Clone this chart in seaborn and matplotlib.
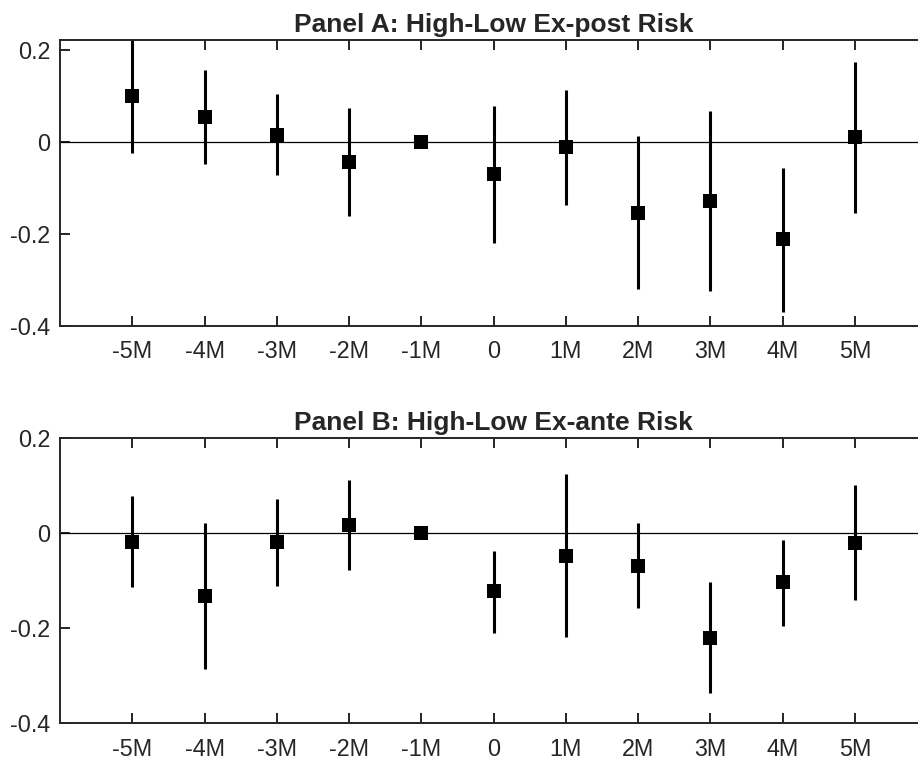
import numpy as np
import pandas as pd
import matplotlib
matplotlib.use("Agg")
import matplotlib.pyplot as plt
import seaborn as sns

# Event-time labels and positions.
periods = ["-5M", "-4M", "-3M", "-2M", "-1M", "0", "1M", "2M", "3M", "4M", "5M"]
positions = [-5, -4, -3, -2, -1, 0, 1, 2, 3, 4, 5]

# Panel A: High-Low Ex-post Risk (estimate, lower, upper).
expostEst = [0.099, 0.055, 0.015, -0.044, 0.0, -0.070, -0.012, -0.154, -0.128, -0.212, 0.010]
expostLow = [-0.023, -0.048, -0.072, -0.161, 0.0, -0.219, -0.137, -0.321, -0.324, -0.370, -0.155]
expostHigh = [0.230, 0.157, 0.104, 0.073, 0.0, 0.078, 0.113, 0.013, 0.068, -0.057, 0.175]

# Panel B: High-Low Ex-ante Risk.
exanteEst = [-0.019, -0.133, -0.020, 0.016, 0.0, -0.123, -0.048, -0.069, -0.220, -0.104, -0.021]
exanteLow = [-0.114, -0.286, -0.112, -0.079, 0.0, -0.211, -0.218, -0.158, -0.337, -0.195, -0.140]
exanteHigh = [0.077, 0.020, 0.072, 0.112, 0.0, -0.037, 0.123, 0.020, -0.103, -0.015, 0.100]

dfA = pd.DataFrame({"t": positions, "est": expostEst, "low": expostLow, "high": expostHigh})
dfB = pd.DataFrame({"t": positions, "est": exanteEst, "low": exanteLow, "high": exanteHigh})

sns.set_theme(style="white")
plt.rcParams["font.family"] = ["Liberation Sans", "DejaVu Sans"]

fig = plt.figure(figsize=(9.18, 7.62), dpi=100)
axA = fig.add_axes([0.0654, 0.5726, 0.9445, 0.3749])
axB = fig.add_axes([0.0654, 0.0508, 0.9445, 0.3748])

panels = [
    (axA, dfA, "Panel A: High-Low Ex-post Risk", (-0.4, 0.222)),
    (axB, dfB, "Panel B: High-Low Ex-ante Risk", (-0.4, 0.2)),
]

for ax, df, title, ylim in panels:
    ax.axhline(0, color="black", lw=0.9, zorder=1)
    ax.vlines(df["t"], df["low"], df["high"], color="black", lw=2.2, zorder=2)
    sns.scatterplot(
        data=df, x="t", y="est", marker="s", s=105,
        color="black", edgecolor="black", linewidth=0, ax=ax, zorder=3,
    )
    ax.set_xlim(-6, 6)
    ax.set_ylim(*ylim)
    ax.set_xticks(positions)
    ax.set_xticklabels(periods)
    ax.set_yticks([-0.4, -0.2, 0, 0.2])
    ax.set_yticklabels(["-0.4", "-0.2", "0", "0.2"])
    ax.set_xlabel("")
    ax.set_ylabel("")
    ax.set_title(title, fontsize=19, fontweight="bold", pad=5.5)
    ax.tick_params(axis="x", direction="in", top=True, bottom=True, length=7,
                   width=1.2, labelsize=16.8, pad=10.5, colors="black")
    ax.tick_params(axis="y", direction="in", left=True, right=False, length=7,
                   width=1.2, labelsize=16.8, pad=7, colors="black")
    for lab in ax.get_xticklabels() + ax.get_yticklabels():
        lab.set_color("#262626")
    for sp in ax.spines.values():
        sp.set_color("#262626")
        sp.set_linewidth(1.4)
    ax.grid(False)

fig.savefig("out.png", dpi=100)
